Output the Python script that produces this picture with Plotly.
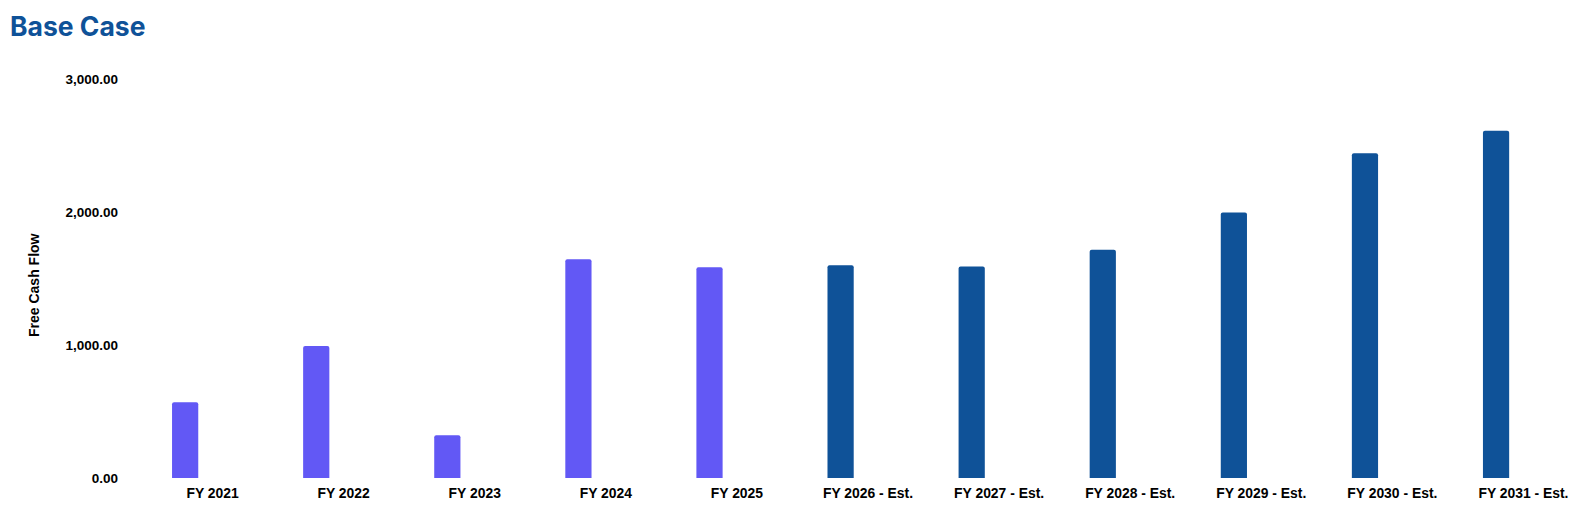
import plotly.graph_objects as go

hist_cats = ["FY 2021", "FY 2022", "FY 2023", "FY 2024", "FY 2025"]
hist_vals = [569, 992, 321, 1644, 1584]
est_cats = ["FY 2026 - Est.", "FY 2027 - Est.", "FY 2028 - Est.", "FY 2029 - Est.",
            "FY 2030 - Est.", "FY 2031 - Est."]
est_vals = [1599, 1591, 1717, 1997, 2441, 2611]
all_cats = hist_cats + est_cats
y_ticks = [0, 1000, 2000, 3000]
y_tick_text = ["0.00", "1,000.00", "2,000.00", "3,000.00"]

FONT = "Liberation Sans, Arial, sans-serif"
W, H = 1581, 506  # page body has an 8px margin

fig = go.Figure()
fig.add_trace(go.Bar(x=hist_cats, y=hist_vals, name="Historical",
                     marker=dict(color="#6258F5", cornerradius=2, line=dict(width=0)),
                     width=0.2, offset=-0.309))
fig.add_trace(go.Bar(x=est_cats, y=est_vals, name="Estimate",
                     marker=dict(color="#0F5298", cornerradius=2, line=dict(width=0)),
                     width=0.2, offset=-0.309))

fig.update_layout(
    width=W, height=H,
    margin=dict(l=139, r=0, t=71, b=36),
    paper_bgcolor="white", plot_bgcolor="white",
    showlegend=False,
    title=dict(text="<b>Base Case</b>", x=2/W, xanchor="left", xref="container",
               y=1-19/H, yanchor="middle", yref="container",
               font=dict(family="Inter, Liberation Sans, sans-serif", size=26.5, color="#0F5298")),
    xaxis=dict(type="category", categoryorder="array", categoryarray=all_cats,
               range=[-0.5, 10.5], showgrid=False, zeroline=False, showline=False,
               ticks="", ticklabelstandoff=5,
               tickfont=dict(family=FONT, size=13.9, color="black", weight="bold")),
    yaxis=dict(range=[0, 3000], tickvals=y_ticks, ticktext=y_tick_text,
               showgrid=False, zeroline=False, showline=False, ticks="",
               ticklabelstandoff=28,
               tickfont=dict(family=FONT, size=13.5, color="black", weight="bold")),
    annotations=[dict(text="<b>Free Cash Flow</b>", xref="paper", yref="paper",
                      x=(34-147)/1442, y=(478-285)/399, xanchor="center", yanchor="middle",
                      textangle=-90, showarrow=False,
                      font=dict(family=FONT, size=14, color="black"))],
)

fig.write_html("out.html")
